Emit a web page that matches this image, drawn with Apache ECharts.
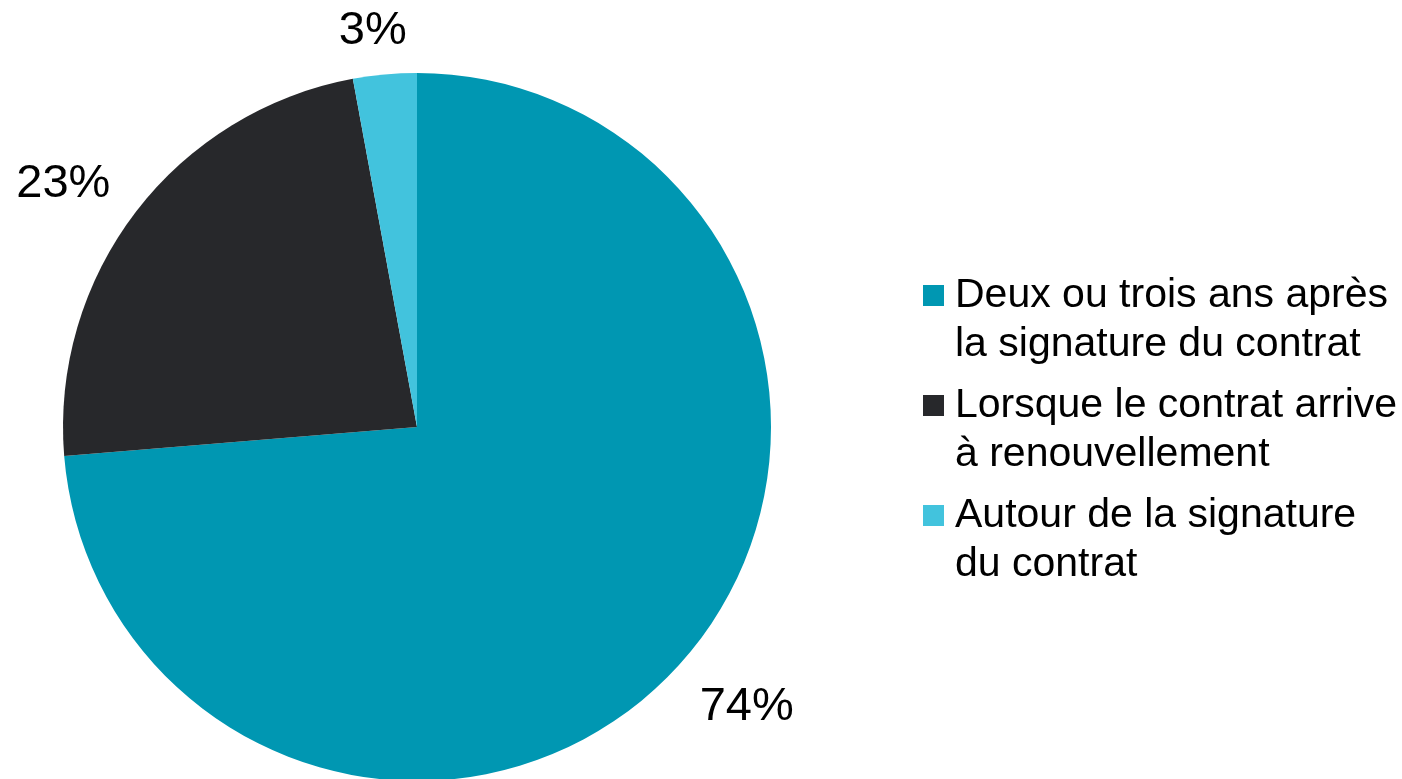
<!DOCTYPE html>
<html>
<head>
<meta charset="utf-8">
<script src="https://cdn.jsdelivr.net/npm/echarts@6/dist/echarts.min.js"></script>
<style>
html,body{margin:0;padding:0;background:#fff;}
#chart{width:1402px;height:779px;}
</style>
</head>
<body>
<div id="chart"></div>
<script>
const categories = [
  "Deux ou trois ans après\nla signature du contrat",
  "Lorsque le contrat arrive\nà renouvellement",
  "Autour de la signature\ndu contrat"
];
const values = [73.7, 23.4, 2.9];
const colors = ["#0097B2", "#27282B", "#42C3DD"];
// per-label leader geometry (hidden lines) to place labels like the original
const labelLen1 = [59, 46, 44];
const labelLen2 = [-26, -16, -31];

const chart = echarts.init(document.getElementById('chart'));
const data = categories.map((c, i) => ({
  name: c,
  value: values[i],
  itemStyle: { color: colors[i] },
  labelLine: { show: false, length: labelLen1[i], length2: labelLen2[i] }
}));

chart.setOption({
  animation: false,
  backgroundColor: '#ffffff',
  legend: {
    orient: 'vertical',
    left: 923,
    top: 222,
    padding: 0,
    itemWidth: 21,
    itemHeight: 21,
    itemGap: -37,
    icon: 'rect',
    formatter: function (name) { return ' \n' + name; },
    textStyle: {
      fontFamily: 'Liberation Sans, Arial, sans-serif',
      fontSize: 41,
      lineHeight: 49,
      color: '#000',
      padding: [0, 0, 0, 6]
    },
    data: categories
  },
  series: [{
    type: 'pie',
    center: [417, 427],
    radius: 354,
    startAngle: 90,
    clockwise: true,
    avoidLabelOverlap: false,
    itemStyle: { borderWidth: 0 },
    label: {
      show: true,
      position: 'outside',
      formatter: function (p) { return Math.round(p.value) + '%'; },
      fontFamily: 'Liberation Sans, Arial, sans-serif',
      fontSize: 47,
      color: '#000'
    },
    emphasis: { disabled: true },
    data: data
  }]
});
</script>
</body>
</html>
